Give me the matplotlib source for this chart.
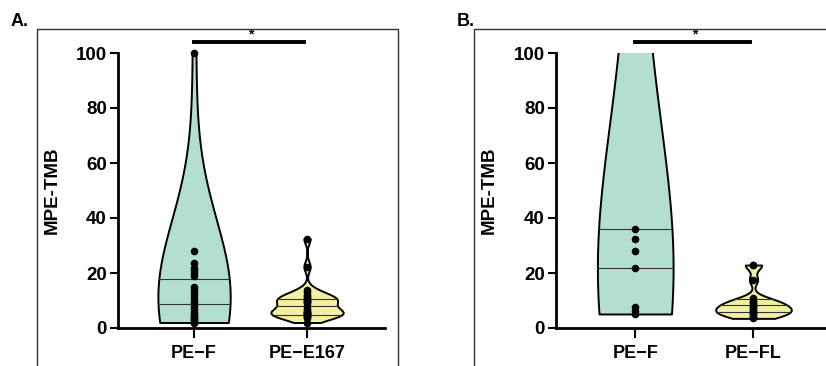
import matplotlib
matplotlib.use("Agg")
import matplotlib.pyplot as plt
from matplotlib.lines import Line2D

plt.rcParams['font.family'] = ['Liberation Sans', 'DejaVu Sans']
plt.rcParams['font.weight'] = 'bold'

# panel A
labels_a = ["PE\u2212F", "PE\u2212E167"]
pe_f_a = [2, 2.5, 3, 3.5, 4, 4.5, 5, 6, 7, 8, 9, 10, 11, 12, 13, 14, 15,
          19, 20, 21, 22, 23.5, 28, 100]
pe_e167 = [2, 3.5, 4, 4.5, 4.5, 5, 5, 5.5, 5.5, 6, 6, 6.5, 7, 8, 9, 9.5, 10, 10,
           10.5, 10.5, 11, 11.5, 12, 13, 14, 22.3, 32.5]
quart_a = [[8.7, 17.7], [4.6, 8.0, 10.5]]

# panel B
labels_b = ["PE\u2212F", "PE\u2212FL"]
pe_f_b = [5.1, 6.3, 7.8, 21.7, 28.1, 32.3, 35.9, 130]
pe_fl = [3.5, 4, 4.5, 5, 5.5, 6, 6, 6.5, 7, 7.5, 8, 8.5, 9, 9.5, 10, 10.8,
         17.5, 22.9, 22.9]
quart_b = [[21.7, 35.9], [6.0, 8.2, 10.4]]

green = "#b3dfcf"
yellow = "#f3f0a2"

W, H = 826, 366
fig = plt.figure(figsize=(W / 100, H / 100), dpi=100)


def px(x, y):
    return x / W, 1 - y / H


def frame(x0, x1, top):
    xa, ya = px(x0, top)
    xb, _ = px(x1, top)
    fig.add_artist(Line2D([xa, xa, xb, xb], [-0.1, ya, ya, -0.1],
                          transform=fig.transFigure, color="#333333", lw=1.0))


def panel(rect, groups, bws, quarts, labels, xlim, letter, letter_xy):
    ax = fig.add_axes(rect)
    colors = [green, yellow]
    for i, (d, bw, q) in enumerate(zip(groups, bws, quarts)):
        pos = i + 1
        vp = ax.violinplot(d, positions=[pos], widths=0.64, bw_method=bw,
                           showextrema=False, points=400)
        body = vp["bodies"][0]
        body.set_facecolor(colors[i])
        body.set_edgecolor("black")
        body.set_linewidth(1.4)
        body.set_alpha(1)
        body.set_zorder(2)
        ql = ax.hlines(q, pos - 0.5, pos + 0.5, color="#333333", lw=0.8, zorder=3)
        ql.set_clip_path(body.get_paths()[0], ax.transData)
        shown = [v for v in d if v <= 100]
        ax.scatter([pos] * len(shown), shown, s=30, color="black", zorder=4,
                   clip_on=False, linewidths=0)
    ax.set_ylim(0, 100)
    ax.set_xlim(*xlim)
    ax.set_xticks([1, 2])
    ax.set_xticklabels(labels, fontsize=13, fontweight="bold")
    ax.set_yticks([0, 20, 40, 60, 80, 100])
    ax.tick_params(axis="y", labelsize=13.5, length=6, width=1.5, pad=2)
    ax.tick_params(axis="x", length=7, width=1.5, pad=5)
    for s in ["top", "right"]:
        ax.spines[s].set_visible(False)
    for s in ["left", "bottom"]:
        ax.spines[s].set_linewidth(2)
    ax.set_ylabel("MPE-TMB", fontsize=13.5, fontweight="bold")
    ax.yaxis.set_label_coords(-0.214, 0.5)
    ax.plot([1, 1.97], [104, 104], color="black", lw=2.8, clip_on=False)
    ax.text(1.5, 106.8, "*", ha="center", va="center", fontsize=10,
            fontweight="bold")
    fig.text(*px(*letter_xy), letter, fontsize=13, fontweight="bold",
             ha="left", va="center")
    return ax


frame(37, 398, 29)
frame(474, 900, 29)

panel([118 / W, 38 / H, 267 / W, 275 / H], [pe_f_a, pe_e167], [1.4, 0.3],
      quart_a, labels_a, (0.327, 2.69), "A.", (11, 22))
panel([556 / W, 38 / H, 272 / W, 275 / H], [pe_f_b, pe_fl], [1.3, 0.3],
      quart_b, labels_b, (0.33, 2.63), "B.", (457, 22))

fig.savefig("out.png", dpi=100)
